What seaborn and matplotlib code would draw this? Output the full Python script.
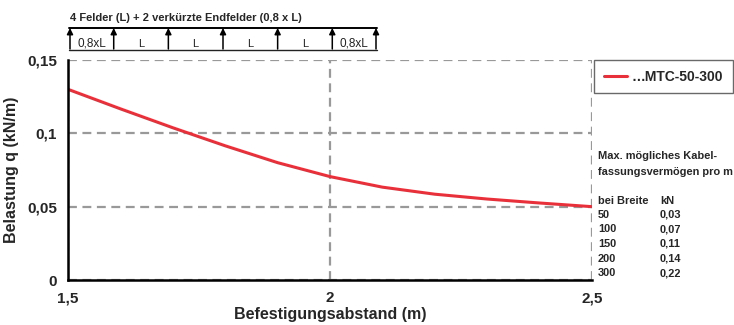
import matplotlib
matplotlib.use("Agg")
import matplotlib.pyplot as plt
import seaborn as sns
import pandas as pd

# data
abstand = [1.5, 1.6, 1.7, 1.8, 1.9, 2.0, 2.1, 2.2, 2.3, 2.4, 2.5]
belastung = [0.130, 0.1167, 0.1038, 0.0915, 0.0800, 0.0705, 0.0633, 0.0585, 0.0552, 0.0525, 0.050]
series_name = "…MTC-50-300"
breiten = ["50", "100", "150", "200", "300"]
kn_werte = ["0,03", "0,07", "0,11", "0,14", "0,22"]
x_ticks = [1.5, 2.0, 2.5]
x_labels = ["1,5", "2", "2,5"]
y_ticks = [0, 0.05, 0.1, 0.15]
y_labels = ["0", "0,05", "0,1", "0,15"]
feld_labels = ["0,8xL", "L", "L", "L", "L", "0,8xL"]
feld_len = [0.8, 1, 1, 1, 1, 0.8]

sns.set_style("white")
plt.rcParams['font.family'] = ['Liberation Sans', 'DejaVu Sans']

W, H = 734, 325
fig = plt.figure(figsize=(W/100, H/100), dpi=100)
ax = fig.add_axes([68/W, 1-280/H, (592-68)/W, (280-60)/H])

df = pd.DataFrame({"x": abstand, "y": belastung})
sns.lineplot(data=df, x="x", y="y", ax=ax, color="#e8303a", lw=2.2, label=series_name, legend=False)
ax.get_lines()[0].set_solid_joinstyle('round')

ax.set_xlim(1.5, 2.5)
ax.set_ylim(0, 0.15)
ax.set_xticks(x_ticks)
ax.set_xticklabels(x_labels, fontsize=11, fontweight='bold')
ax.set_yticks(y_ticks)
ax.set_yticklabels(y_labels, fontsize=11, fontweight='bold')
ax.tick_params(axis='both', length=4, width=1.5, direction='out', color='black', pad=4)
ax.grid(True, color='#999999', linestyle=(0, (4, 2.5)), lw=1.6)
for s in ['top', 'right']:
    ax.spines[s].set_visible(False)
for s in ['left', 'bottom']:
    ax.spines[s].set_color('black')
    ax.spines[s].set_linewidth(1.8)
ax.set_xlabel("Befestigungsabstand (m)", fontsize=11.5, fontweight='bold', labelpad=1)
ax.set_ylabel("Belastung q (kN/m)", fontsize=11.5, fontweight='bold', labelpad=6)

# legend
leg = fig.legend(handles=ax.get_lines(), labels=[series_name], loc='upper left',
                 bbox_to_anchor=(594/W, 1-60/H), frameon=True, fancybox=False,
                 prop={'weight': 'bold', 'size': 10}, handlelength=1.7,
                 handletextpad=0.3, borderpad=0.7, borderaxespad=0)
leg.get_frame().set_edgecolor('#444444')
leg.get_frame().set_linewidth(1.0)

# side table
tx = 598/W
cx = 660/W
fs = 7.9
fig.text(tx, 1-156/H, "Max. mögliches Kabel-", fontsize=fs, fontweight='bold', va='center')
fig.text(tx, 1-172/H, "fassungsvermögen pro m", fontsize=fs, fontweight='bold', va='center')
fig.text(tx, 1-201/H, "bei Breite", fontsize=fs, fontweight='bold', va='center')
fig.text(cx, 1-201/H, "kN", fontsize=fs, fontweight='bold', va='center')
for i, (b, k) in enumerate(zip(breiten, kn_werte)):
    yy = 1-(214.5+i*14.7)/H
    fig.text(tx, yy, b, fontsize=fs, fontweight='bold', va='center')
    fig.text(cx, yy, k, fontsize=fs, fontweight='bold', va='center')

# top beam diagram
dax = fig.add_axes([0, 0, 1, 1])
dax.set_xlim(0, W)
dax.set_ylim(H, 0)
dax.axis('off')
dax.text(70, 18, "4 Felder (L) + 2 verkürzte Endfelder (0,8 x L)", fontsize=8, fontweight='bold', va='center')
x0, x1 = 70, 376
dax.plot([x0-1, x1+1], [27.5, 27.5], color='black', lw=1.4)
dax.plot([x0-1, x1+1], [50, 50], color='#222222', lw=1.0)
total = sum(feld_len)
pos = [x0]
for l in feld_len:
    pos.append(pos[-1] + l/total*(x1-x0))
for p in pos:
    dax.annotate("", xy=(p, 28), xytext=(p, 49),
                 arrowprops=dict(arrowstyle='-|>', color='black', lw=1.1,
                                 mutation_scale=9, shrinkA=0, shrinkB=0))
for i, lab in enumerate(feld_labels):
    if lab == "L":
        dax.text((pos[i]+pos[i+1])/2, 44, lab, fontsize=8, ha='center', va='center', color='#222222')
    else:
        dax.text((pos[i]+pos[i+1])/2, 44, lab, fontsize=8.5, ha='center', va='center', color='#222222')

fig.savefig("out.png", dpi=100)
